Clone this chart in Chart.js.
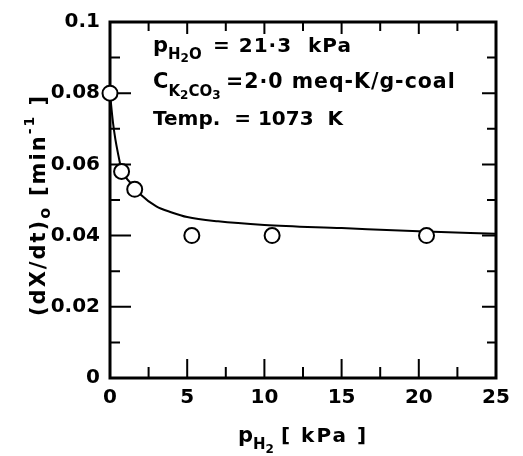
<!DOCTYPE html>
<html lang="en">
<head>
  <meta charset="UTF-8" />
  <title>Rate vs pH2</title>
  <script src="https://cdn.jsdelivr.net/npm/chart.js"></script>
  <style>
    html, body { margin: 0; padding: 0; background: #fff; }
    #wrap { width: 523px; height: 456px; }
  </style>
</head>
<body>
  <div id="wrap"><canvas id="rateChart" width="523" height="456"></canvas></div>

  <script>
    // measured points
    const pH2 = [0, 0.75, 1.6, 5.3, 10.5, 20.5];
    const rate = [0.080, 0.058, 0.053, 0.040, 0.040, 0.040];

    // fitted curve
    const curveX = [0, 0.1, 0.2, 0.35, 0.5, 0.75, 1, 1.5, 2, 3, 4, 5, 7, 10, 15, 20, 25];
    const curveY = [0.080, 0.0755, 0.0715, 0.067, 0.0635, 0.0585, 0.0565, 0.054, 0.0515, 0.0482, 0.0465, 0.0452, 0.044, 0.043, 0.0421, 0.0412, 0.0405];

    const xTicks = [0, 5, 10, 15, 20, 25];
    const yTicks = [0, 0.02, 0.04, 0.06, 0.08, 0.1];

    const FONT = "'DejaVu Sans', sans-serif";

    function font(size) { return 'bold ' + size + 'px ' + FONT; }

    // draws a row of text pieces: [text, size, baseline shift, absolute x]
    function drawRuns(ctx, x, y, runs) {
      let cx = x;
      runs.forEach(r => {
        if (r[3] !== undefined) cx = r[3];
        ctx.font = font(r[1]);
        ctx.fillText(r[0], cx, y + (r[2] || 0));
        cx += ctx.measureText(r[0]).width;
      });
    }

    const framePlugin = {
      id: 'frame',
      beforeDatasetsDraw(chart) {
        const { ctx, chartArea: a, scales } = chart;
        const xs = scales.x, ys = scales.y;
        ctx.save();
        ctx.strokeStyle = '#000';
        ctx.lineWidth = 3;
        ctx.strokeRect(a.left, a.top, a.right - a.left, a.bottom - a.top);
        ctx.lineWidth = 2;
        ctx.beginPath();
        // bottom and top ticks every 2.5
        for (let v = 2.5; v < 25; v += 2.5) {
          const px = xs.getPixelForValue(v);
          const major = v % 5 === 0;
          ctx.moveTo(px, a.bottom); ctx.lineTo(px, a.bottom - (major ? 19 : 11));
          ctx.moveTo(px, a.top); ctx.lineTo(px, a.top + (major ? 12 : 9));
        }
        // left and right ticks every 0.01
        for (let i = 1; i < 10; i++) {
          const v = i / 100;
          const py = ys.getPixelForValue(v);
          const major = i % 2 === 0;
          ctx.moveTo(a.left, py); ctx.lineTo(a.left + (major ? 21 : 10), py);
          ctx.moveTo(a.right, py); ctx.lineTo(a.right - (major ? 14 : 9), py);
        }
        ctx.stroke();
        ctx.restore();
      },
      afterDraw(chart) {
        const ctx = chart.ctx;
        ctx.save();
        ctx.fillStyle = '#000';
        ctx.textBaseline = 'alphabetic';
        ctx.textAlign = 'left';

        // x title
        ctx.letterSpacing = '0px';
        drawRuns(ctx, 238, 442, [['p', 21], ['H', 15, 7], ['2', 12, 11]]);
        ctx.letterSpacing = '2px';
        drawRuns(ctx, 238, 442, [['[ kPa ]', 20, 0, 281]]);

        // y title, rotated
        ctx.save();
        ctx.translate(45, 316);
        ctx.rotate(-Math.PI / 2);
        ctx.letterSpacing = '2px';
        drawRuns(ctx, 0, 0, [['(dX/dt)', 21], ['o', 16, 5]]);
        drawRuns(ctx, 0, 0, [['[min', 21, 0, 120], ['-1', 14, -11], [' ]', 21]]);
        ctx.restore();

        // conditions
        ctx.letterSpacing = '0px';
        drawRuns(ctx, 153, 52, [['p', 21], ['H', 15, 7], ['2', 12, 10], ['O', 15, 7]]);
        drawRuns(ctx, 153, 88, [['C', 21], ['K', 15, 8], ['2', 12, 11], ['CO', 15, 8], ['3', 12, 11]]);
        ctx.letterSpacing = '1px';
        drawRuns(ctx, 153, 52, [['= 21·3  kPa', 20, 0, 213]]);
        drawRuns(ctx, 153, 88, [['=2·0 meq-K/g-coal', 20.5, 0, 226]]);
        ctx.letterSpacing = '0px';
        drawRuns(ctx, 153, 125, [['Temp.  = 1073  K', 20]]);
        ctx.restore();
      }
    };

    new Chart(document.getElementById('rateChart'), {
      type: 'scatter',
      data: {
        datasets: [
          {
            label: 'measured',
            data: pH2.map((x, i) => ({ x: x, y: rate[i] })),
            pointRadius: 7.5,
            pointBackgroundColor: '#fff',
            pointBorderColor: '#000',
            pointBorderWidth: 2,
            showLine: false,
            clip: false,
            order: 0
          },
          {
            label: 'curve',
            data: curveX.map((x, i) => ({ x: x, y: curveY[i] })),
            showLine: true,
            pointRadius: 0,
            borderColor: '#000',
            borderWidth: 2,
            cubicInterpolationMode: 'monotone',
            order: 1
          }
        ]
      },
      options: {
        responsive: false,
        animation: false,
        events: [],
        layout: { padding: { left: 0, right: 27, top: 15, bottom: 0 } },
        plugins: { legend: { display: false }, tooltip: { enabled: false } },
        scales: {
          x: {
            type: 'linear',
            min: 0, max: 25,
            afterBuildTicks: s => { s.ticks = xTicks.map(v => ({ value: v })); },
            afterFit: s => { s.height = 78; },
            grid: { display: false, drawTicks: false },
            border: { display: false },
            ticks: { color: '#000', padding: 8, font: { family: FONT, size: 20, weight: 'bold' } }
          },
          y: {
            min: 0, max: 0.1,
            afterBuildTicks: s => { s.ticks = yTicks.map(v => ({ value: v })); },
            afterFit: s => { s.width = 110; },
            grid: { display: false, drawTicks: false },
            border: { display: false },
            ticks: {
              color: '#000', padding: 10,
              font: { family: FONT, size: 20, weight: 'bold' },
              callback: v => v === 0 ? '0' : (v === 0.1 ? '0.1' : v.toFixed(2))
            }
          }
        }
      },
      plugins: [framePlugin]
    });
  </script>
</body>
</html>
